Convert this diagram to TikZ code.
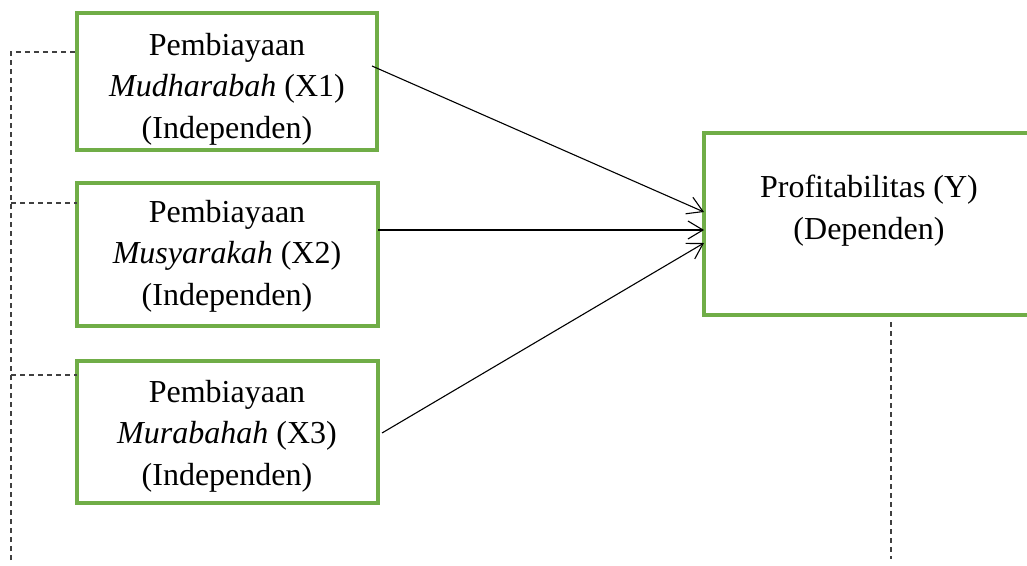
\documentclass[tikz,border=0pt]{standalone}
\usepackage{fontspec}
\setmainfont{Liberation Serif}
\usetikzlibrary{arrows.meta}
\definecolor{boxgreen}{HTML}{70AD47}
\definecolor{dashgray}{HTML}{404040}
\begin{document}
\begin{tikzpicture}[x=1pt,y=-1pt,
  box/.style={draw=boxgreen,line width=3.3pt,rectangle,inner sep=0pt,outer sep=0pt,minimum width=#1},
  txt/.style={align=center,anchor=base,inner sep=0pt,font=\fontsize{32}{41.5}\selectfont},
  arr/.style={line width=1.1pt,-{Straight Barb[length=15pt,width=18pt,line width=1.1pt]}},
  dsh/.style={draw=dashgray,line width=1.3pt,dash pattern=on 5pt off 4pt}]
\useasboundingbox (0,0) rectangle (1027,565);
% boxes
\node[box=300pt,minimum height=137pt] (x1) at (227,81.5) {};
\node[box=301pt,minimum height=143pt] (x2) at (227.5,254.5) {};
\node[box=301pt,minimum height=142pt] (x3) at (227.5,432) {};
\node[box=326pt,minimum height=182pt] (y) at (867,224) {};
% texts (anchored at the baseline of the last line)
\node[txt] (t1) at (227,138) {Pembiayaan\\\textit{Mudharabah} (X1)\\(Independen)};
\node[txt] (t2) at (227,305) {Pembiayaan\\\textit{Musyarakah} (X2)\\(Independen)};
\node[txt] (t3) at (227,485) {Pembiayaan\\\textit{Murabahah} (X3)\\(Independen)};
\node[txt] (ty) at (869,239) {Profitabilitas (Y)\\(Dependen)};
% arrows
\draw[arr] ([xshift=-5pt,yshift=15.5pt]x1.east) -- ([yshift=12pt]y.west);
\draw[arr] ([yshift=24.5pt]x2.east) -- ([yshift=-6pt]y.west);
\draw[arr] ([xshift=4pt,yshift=-1pt]x3.east) -- ([yshift=-19pt]y.west);
% dashed lines
\coordinate (lb) at (11,560);
\coordinate (l2) at (11,203);
\coordinate (l3) at (11,375);
\coordinate (rt) at (891,322);
\coordinate (rb) at (891,559);
\draw[dsh] (lb) |- ([yshift=29.5pt]x1.west);
\draw[dsh] (l2) -- ([yshift=51.5pt]x2.west);
\draw[dsh] (l3) -- ([yshift=57pt]x3.west);
\draw[dsh] (rt) -- (rb);
\end{tikzpicture}
\end{document}
